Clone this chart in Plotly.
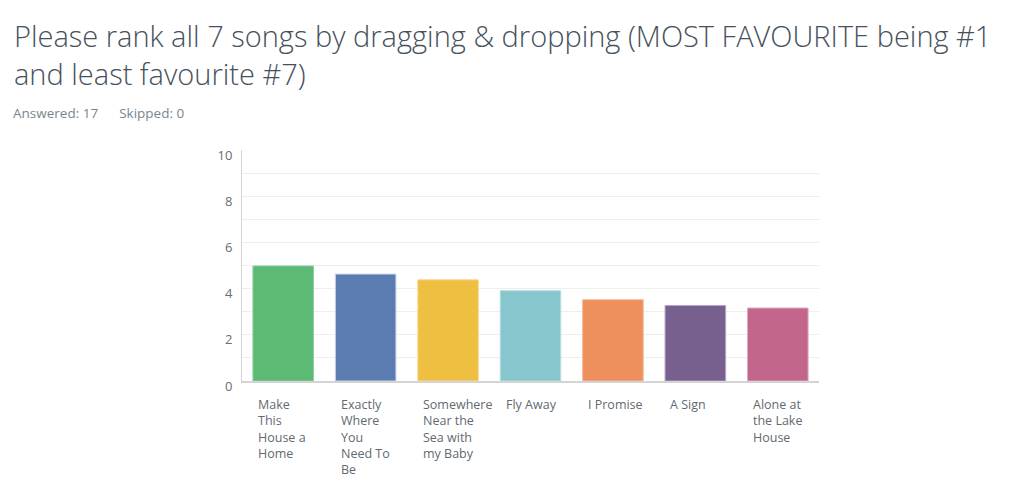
import plotly.graph_objects as go

# survey rank scores
songs = ["Make This House a Home", "Exactly Where You Need To Be", "Somewhere Near the Sea with my Baby",
         "Fly Away", "I Promise", "A Sign", "Alone at the Lake House"]
song_labels = ["Make<br>This<br>House a<br>Home", "Exactly<br>Where<br>You<br>Need To<br>Be",
               "Somewhere<br>Near the<br>Sea with<br>my Baby", "Fly Away", "I Promise", "A Sign",
               "Alone at<br>the Lake<br>House"]
scores = [4.98, 4.63, 4.38, 3.91, 3.52, 3.27, 3.16]
colors = ["#5cba74", "#5b7cb1", "#efbf42", "#86c6cc", "#ee905d", "#77608d", "#c2668c"]
edges = ["#8fd0a0", "#c9d4ea", "#f6da90", "#b8e0e3", "#f6b891", "#b6a5c6", "#e3a8c0"]
y_ticks = [0, 2, 4, 6, 8, 10]

title_text = "Please rank all 7 songs by dragging & dropping (MOST FAVOURITE being #1<br>and least favourite #7)"
sub_text = "Answered: 17&nbsp;&nbsp;&nbsp;&nbsp;&nbsp;&nbsp;Skipped: 0"

# page body has an 8px margin, so the figure is a bit smaller than the window
W, H = 1008, 481
L, R, T, B = 234, 197, 142, 108
pw, ph = W - L - R, H - T - B

fig = go.Figure(go.Bar(
    x=songs, y=scores,
    marker=dict(color=colors, line=dict(color=edges, width=1)),
    hoverinfo="x+y",
))

for s, lab in zip(songs, song_labels):
    fig.add_annotation(x=s, y=0, xref="x", yref="y", text=lab, showarrow=False,
                       xanchor="left", yanchor="top", align="left", xshift=-27, yshift=-13,
                       font=dict(family="Open Sans", size=12.5, color="#5f6a72"))

# title
fig.add_annotation(x=(4 - L) / pw, y=(H - B - 6) / ph, xref="paper", yref="paper",
                   text=title_text, showarrow=False, xanchor="left", yanchor="top", align="left",
                   font=dict(family="Open Sans", size=29, color="#46515c", weight=300))

fig.add_annotation(x=(3 - L) / pw, y=(H - B - 105) / ph, xref="paper", yref="paper",
                   text=sub_text, showarrow=False, xanchor="left", yanchor="middle",
                   font=dict(family="Open Sans", size=13.5, color="#7a858c"))

fig.update_layout(
    width=W, height=H,
    margin=dict(l=L, r=R, t=T, b=B),
    paper_bgcolor="white", plot_bgcolor="white",
    bargap=0.265,
    showlegend=False,
    xaxis=dict(showticklabels=False, showline=True, linecolor="#d4d4d4", linewidth=1.5,
               ticks="", showgrid=False, fixedrange=True),
    yaxis=dict(range=[0, 10], tickvals=y_ticks, showline=True, linecolor="#d4d4d4", linewidth=1,
               gridcolor="#eeeeee", zeroline=False, ticks="", ticklabelstandoff=6,
               ticklabelshift=5,
               minor=dict(dtick=1, showgrid=True, gridcolor="#eeeeee"),
               tickfont=dict(family="Open Sans", size=13, color="#666e75"), fixedrange=True),
)

fig.write_html("out.html")
